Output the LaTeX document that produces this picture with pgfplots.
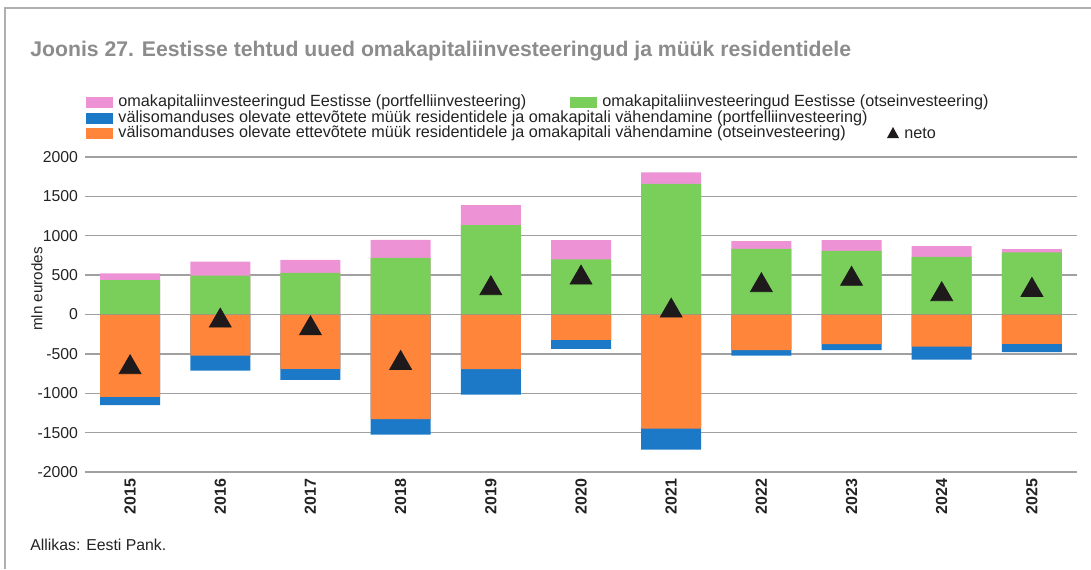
\documentclass[border=0pt]{standalone}
\usepackage{fontspec}
\setmainfont{Liberation Sans}
\usepackage{pgfplots}
\pgfplotsset{compat=1.18}
\usepackage{pgfplotstable}

\definecolor{cpink}{RGB}{238,146,214}
\definecolor{cgreen}{RGB}{122,207,90}
\definecolor{cblue}{RGB}{27,121,200}
\definecolor{corange}{RGB}{255,133,58}
\definecolor{ctri}{RGB}{30,26,28}
\definecolor{cgrid}{RGB}{160,160,160}
\definecolor{cframe}{RGB}{175,175,175}
\definecolor{ctitle}{RGB}{140,140,140}
\definecolor{ctext}{RGB}{35,35,35}

\pgfplotstableread{
x year otse portf otsem portfm neto
0 2015 436 85 -1047 -105 -631
1 2016 495 178 -521 -191 -39
2 2017 529 165 -691 -140 -137
3 2018 719 229 -1327 -198 -577
4 2019 1135 254 -695 -322 372
5 2020 699 245 -322 -115 507
6 2021 1660 144 -1449 -267 88
7 2022 834 97 -453 -68 410
8 2023 808 136 -377 -76 491
9 2024 732 136 -407 -165 296
10 2025 788 42 -373 -106 351
}\data

\begin{document}
\begin{tikzpicture}
\begin{scope}[x=0.5pt,y=0.5pt]
\path[use as bounding box] (0,0) rectangle (1091,569);
\draw[cframe, line width=0.8pt] (5,0) -- (5,561) -- (1091,561);
\node[anchor=west, inner sep=0pt, text=ctitle, font=\fontsize{10.6}{12}\selectfont\bfseries] at (30,518) {Joonis 27. Eestisse tehtud uued omakapitaliinvesteeringud ja müük residentidele};
% legend
\fill[cpink] (86,461) rectangle (113,472);
\node[anchor=west, inner sep=0pt, text=ctext, font=\fontsize{8.1}{9}\selectfont] at (118,466.5) {omakapitaliinvesteeringud Eestisse (portfelliinvesteering)};
\fill[cgreen] (570,461) rectangle (597,472);
\node[anchor=west, inner sep=0pt, text=ctext, font=\fontsize{8.1}{9}\selectfont] at (602,466.5) {omakapitaliinvesteeringud Eestisse (otseinvesteering)};
\fill[cblue] (86,445) rectangle (113,456);
\node[anchor=west, inner sep=0pt, text=ctext, font=\fontsize{8.1}{9}\selectfont] at (118,450.5) {välisomanduses olevate ettevõtete müük residentidele ja omakapitali vähendamine (portfelliinvesteering)};
\fill[corange] (86,430.5) rectangle (113,441.5);
\node[anchor=west, inner sep=0pt, text=ctext, font=\fontsize{8.1}{9}\selectfont] at (118,436) {välisomanduses olevate ettevõtete müük residentidele ja omakapitali vähendamine (otseinvesteering)};
\fill[ctri] (887,431) -- (899,431) -- (893,442) -- cycle;
\node[anchor=west, inner sep=0pt, text=ctext, font=\fontsize{8.1}{9}\selectfont] at (904,436) {neto};
% y label
\node[rotate=90, inner sep=0pt, text=ctext, font=\fontsize{7.6}{9}\selectfont] at (37,280) {mln eurodes};
% source
\node[anchor=west, inner sep=0pt, text=ctext, font=\fontsize{7.9}{9}\selectfont] at (30,24) {Allikas: Eesti Pank.};
\end{scope}
\begin{axis}[
  at={(42.5pt,48.5pt)}, anchor=south west,
  scale only axis, width=496pt, height=157.5pt,
  xmin=-0.5, xmax=10.5, ymin=-2000, ymax=2000,
  ytick={-2000,-1500,...,2000},
  xtick={0,...,10},
  xticklabels={2015,2016,2017,2018,2019,2020,2021,2022,2023,2024,2025},
  axis line style={draw=none},
  major tick length=0pt,
  ymajorgrids, grid style={cgrid, line width=0.7pt},
  /pgf/number format/assume math mode=true,
  /pgf/number format/1000 sep={},
  yticklabel style={font=\fontsize{7.9}{9}\selectfont, text=ctext},
  xticklabel style={font=\fontsize{8}{9}\selectfont\bfseries, text=ctext, rotate=90, anchor=east},
  clip=false,
]
\addplot[ybar, bar width=30pt, bar shift=0pt, fill=cpink, draw=none] table[x=x, y expr=\thisrow{otse}+\thisrow{portf}] {\data};
\addplot[ybar, bar width=30pt, bar shift=0pt, fill=cgreen, draw=none] table[x=x, y=otse] {\data};
\addplot[ybar, bar width=30pt, bar shift=0pt, fill=cblue, draw=none] table[x=x, y expr=\thisrow{otsem}+\thisrow{portfm}] {\data};
\addplot[ybar, bar width=30pt, bar shift=0pt, fill=corange, draw=none] table[x=x, y=otsem] {\data};
\addplot[only marks, mark=triangle*, mark size=6.3pt, color=ctri, mark options={yshift=-1.6pt}] table[x=x, y=neto] {\data};
\end{axis}
\end{tikzpicture}
\end{document}
